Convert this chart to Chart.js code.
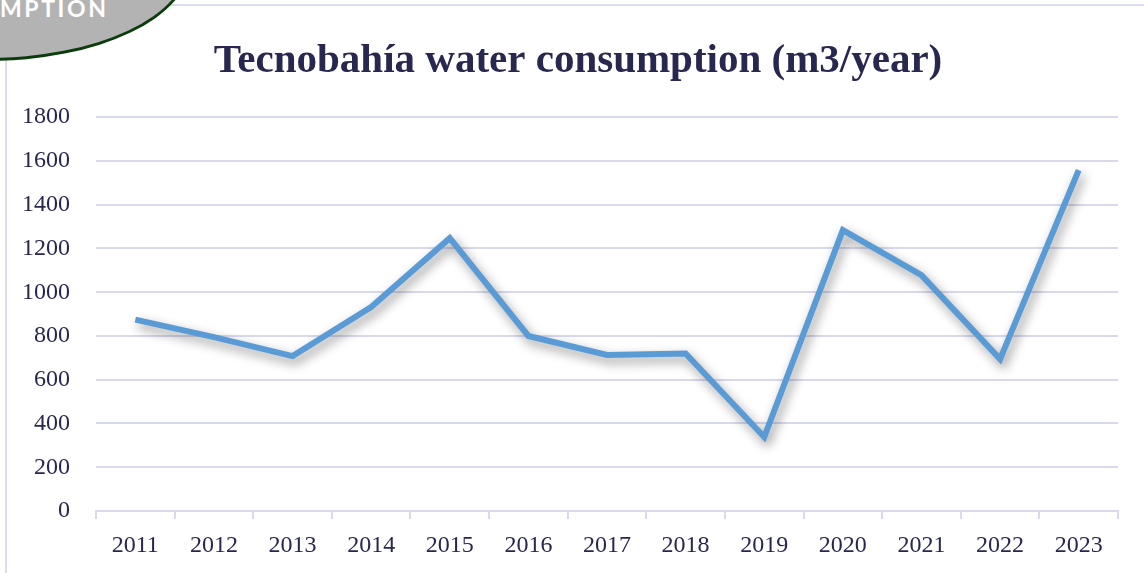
<!DOCTYPE html>
<html>
<head>
<meta charset="utf-8">
<script src="https://cdn.jsdelivr.net/npm/chart.js@4/dist/chart.umd.min.js"></script>
<style>
  html, body { margin: 0; padding: 0; background: #fff; }
  .wrap { position: relative; width: 1144px; height: 573px; overflow: hidden; }
  .frame-top { position: absolute; left: 0; top: 4px; width: 1144px; height: 2px; background: #dcdcf0; }
  .frame-left { position: absolute; left: 5px; top: 0; width: 2px; height: 573px; background: #dcdcf0; }
  .badge {
    position: absolute; left: -216px; top: -133px; width: 400px; height: 188px;
    border-radius: 50%; background: #b3b3b3; border: 3px solid #0b3d0b;
  }
  .badge-text {
    position: absolute; left: 0px; top: -6px; color: #fff;
    font: bold 23px Lato, sans-serif; letter-spacing: 2.6px;
  }
  canvas { position: absolute; left: 0; top: 0; }
</style>
</head>
<body>
<div class="wrap">
  <div class="frame-top"></div>
  <div class="frame-left"></div>
  <canvas id="myChart" width="1144" height="573"></canvas>
  <div class="badge"></div>
  <div class="badge-text">MPTION</div>
</div>
<script>
const years = ['2011', '2012', '2013', '2014', '2015', '2016', '2017', '2018', '2019', '2020', '2021', '2022', '2023'];
const consumption = [875, 795, 708, 932, 1247, 800, 713, 720, 338, 1284, 1078, 694, 1558];
const yTicks = [0, 200, 400, 600, 800, 1000, 1200, 1400, 1600, 1800];

const textColor = '#27274f';
const gridColor = '#d9d9ee';

/* line shadow */
const lineShadow = {
  id: 'lineShadow',
  beforeDatasetDraw(chart) {
    const c = chart.ctx;
    c.save();
    c.shadowColor = 'rgba(0,0,0,0.42)';
    c.shadowBlur = 11;
    c.shadowOffsetX = 3;
    c.shadowOffsetY = 5;
  },
  afterDatasetDraw(chart) {
    chart.ctx.restore();
  },
};

/* title is centred a bit right of the canvas middle */
const titleShift = {
  id: 'titleShift',
  afterLayout(chart) {
    chart.titleBlock.left = 38;
    chart.titleBlock.right = chart.chartArea.right;
  },
};

const ctx = document.getElementById('myChart').getContext('2d');

const chart = new Chart(ctx, {
  type: 'line',
  data: {
    labels: years,
    datasets: [
      {
        label: 'Water consumption',
        data: consumption,
        borderColor: '#5b9bd5',
        backgroundColor: '#5b9bd5',
        borderWidth: 6,
        pointRadius: 0,
        tension: 0,
        borderJoinStyle: 'miter',
      },
    ],
  },
  plugins: [lineShadow, titleShift],
  options: {
    responsive: false,
    animation: false,
    layout: { padding: { left: 0, right: 26, top: 0, bottom: 0 } },
    plugins: {
      legend: { display: false },
      tooltip: { enabled: false },
      title: {
        display: true,
        text: 'Tecnobahía water consumption (m3/year)',
        color: textColor,
        font: { family: 'Liberation Serif', size: 41, weight: 'bold' },
        padding: { top: 37, bottom: 31 },
      },
    },
    scales: {
      x: {
        offset: true,
        grid: {
          offset: true,
          drawOnChartArea: false,
          drawTicks: true,
          tickLength: 8,
          color: gridColor,
          lineWidth: 2,
        },
        border: { color: gridColor, width: 2 },
        ticks: {
          color: textColor,
          font: { family: 'Liberation Serif', size: 24, lineHeight: 1 },
          padding: 15,
          maxRotation: 0,
        },
      },
      y: {
        min: 0,
        max: 1800,
        afterBuildTicks(scale) {
          scale.ticks = yTicks.map(function (v) { return { value: v }; });
        },
        afterFit(scale) {
          scale.width = 96;
        },
        grid: { color: gridColor, lineWidth: 2, drawTicks: false },
        border: { display: false },
        ticks: {
          color: textColor,
          font: { family: 'Liberation Serif', size: 24 },
          padding: 26,
          callback: function (v) { return String(v); },
        },
      },
    },
  },
});
</script>
</body>
</html>
